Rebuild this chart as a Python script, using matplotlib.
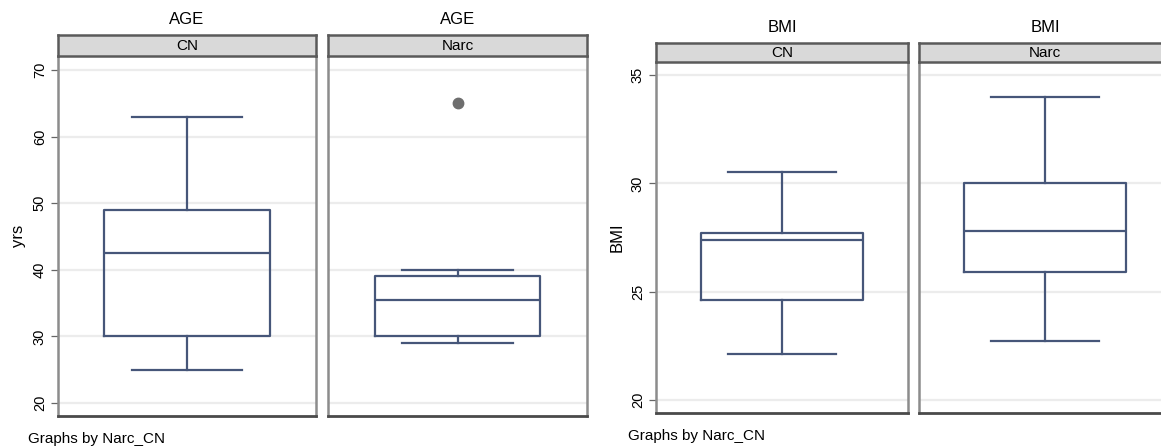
import matplotlib
matplotlib.use("Agg")
import matplotlib.pyplot as plt

plt.rcParams['font.family'] = ['Liberation Sans', 'DejaVu Sans']

# ---- data ----
groups = ["CN", "Narc"]
# whislo, q1, median, q3, whishi
age_stats = {"CN": [25, 30, 42.5, 49, 63], "Narc": [29, 30, 35.5, 39, 40]}
age_outliers = {"CN": [], "Narc": [65]}
bmi_stats = {"CN": [22.1, 24.6, 27.4, 27.7, 30.5], "Narc": [22.7, 25.9, 27.8, 30.0, 34.0]}
bmi_outliers = {"CN": [], "Narc": []}
age_ticks = [20, 30, 40, 50, 60, 70]
bmi_ticks = [20, 25, 30, 35]

W, H = 1161, 448
fig = plt.figure(figsize=(W / 100, H / 100), dpi=100)
fig.patch.set_facecolor("white")

BOX = "#465679"
SPINE_DARK = "#4a4a4a"
SPINE_LIGHT = "#8c8c8c"
GRID = "#ececec"


def px_axes(x0, x1, y0, y1):
    return fig.add_axes([x0 / W, 1 - y1 / H, (x1 - x0) / W, (y1 - y0) / H])


def draw_chart(stats, outliers, ticks, ylim, xs, ytop, ybot, strip_top, title_y, title, ylabel, ylabel_x):
    for i, g in enumerate(groups):
        x0, x1 = xs[i]
        ax = px_axes(x0, x1, ytop, ybot)
        lo, q1, med, q3, hi = stats[g]
        st = [dict(whislo=lo, q1=q1, med=med, q3=q3, whishi=hi, fliers=outliers[g])]
        ax.bxp(st, positions=[0.5], widths=[0.64], capwidths=[0.43], vert=True,
               patch_artist=False, manage_ticks=False,
               boxprops=dict(color=BOX, linewidth=1.6),
               whiskerprops=dict(color=BOX, linewidth=1.6),
               capprops=dict(color=BOX, linewidth=1.6),
               medianprops=dict(color=BOX, linewidth=1.6),
               flierprops=dict(marker="o", markersize=7.5, markerfacecolor="#6e6e6e",
                               markeredgecolor="#6e6e6e"))
        ax.set_xlim(0, 1)
        ax.set_ylim(*ylim)
        ax.set_xticks([])
        ax.set_yticks(ticks)
        ax.grid(axis="y", color=GRID, linewidth=1.6)
        ax.set_axisbelow(True)
        for s in ["left", "right"]:
            ax.spines[s].set_color(SPINE_LIGHT)
            ax.spines[s].set_linewidth(1.8)
        ax.spines["top"].set_visible(False)
        ax.spines["bottom"].set_color(SPINE_DARK)
        ax.spines["bottom"].set_linewidth(2.0)
        if i == 0:
            ax.tick_params(axis="y", length=5, width=0.9, color="#666666", labelsize=10.5,
                           labelrotation=90, pad=3)
            for lab in ax.get_yticklabels():
                lab.set_verticalalignment("center")
            fig.text(ylabel_x / W, 1 - ((ytop + ybot) / 2) / H, ylabel, rotation=90,
                     ha="center", va="center", fontsize=12)
        else:
            ax.tick_params(axis="y", length=0, labelleft=False)
        # strip
        sax = px_axes(x0, x1, strip_top, ytop)
        sax.set_xlim(0, 1)
        sax.set_ylim(0, 1)
        sax.set_facecolor("#d9d9d9")
        sax.set_xticks([])
        sax.set_yticks([])
        for s in sax.spines.values():
            s.set_color("#5a5a5a")
            s.set_linewidth(1.8)
        sax.text(0.5, 0.5, g, ha="center", va="center", fontsize=11)
        fig.text(((x0 + x1) / 2) / W, 1 - title_y / H, title, ha="center", va="center",
                 fontsize=12)


draw_chart(age_stats, age_outliers, age_ticks, (18.05, 72.1),
           [(58, 316), (328, 587)], 56, 416, 35, 20, "AGE", "yrs", 18)
draw_chart(bmi_stats, bmi_outliers, bmi_ticks, (19.4, 35.6),
           [(656, 908), (919, 1171)], 62, 413, 43, 27, "BMI", "BMI", 617)

fig.text(28 / W, 1 - 439 / H, "Graphs by Narc_CN", ha="left", va="center", fontsize=11)
fig.text(628 / W, 1 - 436 / H, "Graphs by Narc_CN", ha="left", va="center", fontsize=11)

fig.savefig("out.png", dpi=100)
